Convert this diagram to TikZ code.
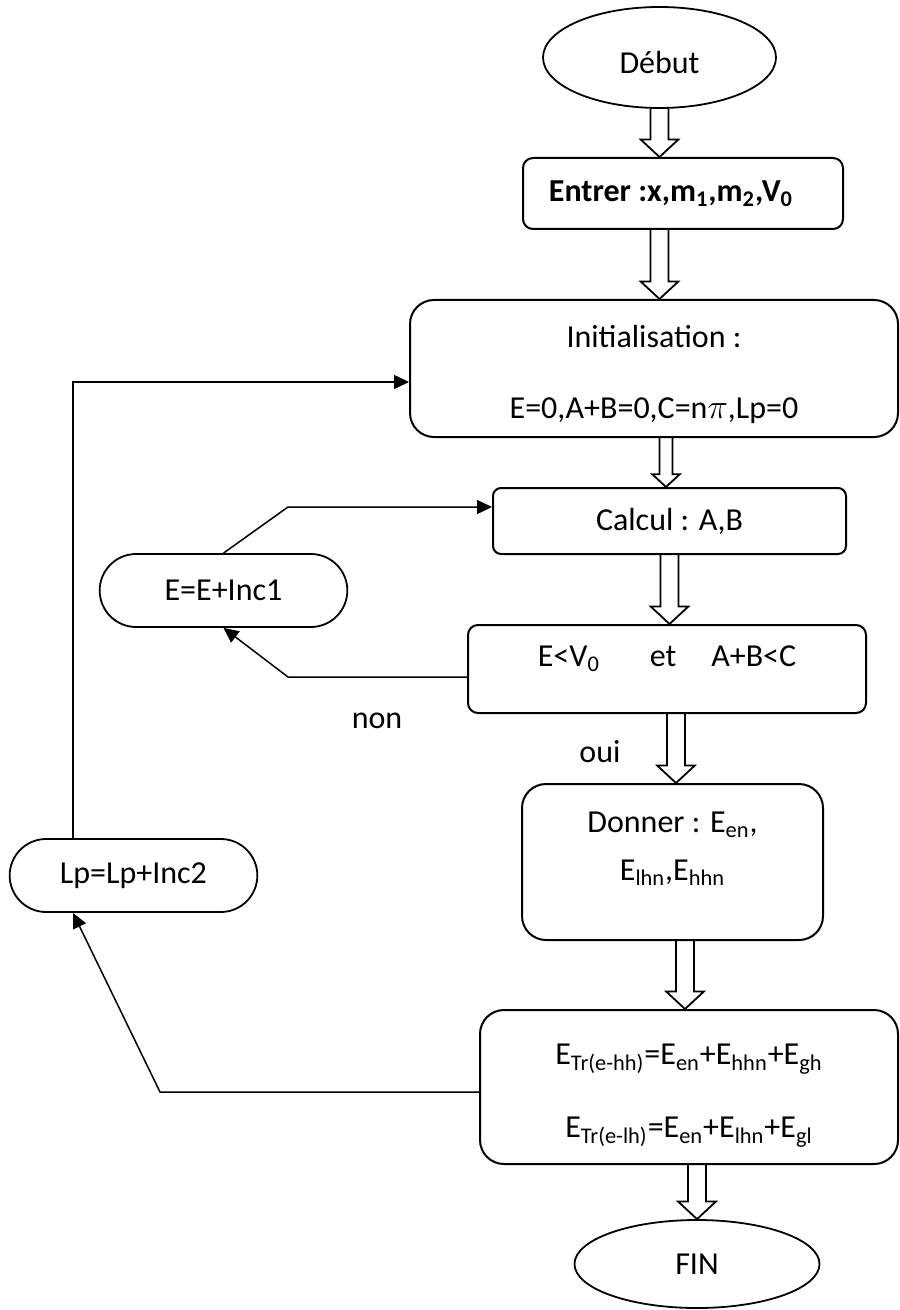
\documentclass[tikz,border=0pt]{standalone}
\usepackage{fontspec}
\setmainfont{Carlito}
\usepackage{tikz}
\usetikzlibrary{calc}
\usetikzlibrary{positioning}
\usetikzlibrary{shapes.geometric}
\usetikzlibrary{shapes.misc}
\usetikzlibrary{arrows.meta}
\tikzstyle{txt} = [font=\fontsize{16}{19}\selectfont, align=center]
\tikzstyle{endnode} = [txt, draw, ellipse, line width=0.9pt, inner sep=0]
\tikzstyle{stepnode} = [txt, draw, rectangle, rounded corners=5pt, line width=1pt]
\tikzstyle{incnode} = [txt, draw, rounded rectangle, line width=0.9pt, minimum width=130.5pt, minimum height=36.5pt]
\tikzstyle{link} = [line width=0.75pt, -{Triangle[length=7.5pt,width=7pt]}]
\tikzstyle{fatarrow} = [draw, line width=0.9pt, line join=miter]
\tikzstyle{lbl} = [txt, anchor=base]
\newcommand\sub[1]{\textsubscript{#1}}
\newcommand\fatarrow[4][9]{%
  \draw[fatarrow] let \p1=($(#2.south)+(#4,0)$), \p2=(#3.north) in
    (\x1-#1*0.5pt,\y1) -- (\x1-#1*0.5pt,\y2+#1*0.975pt) -- (\x1-#1*1.05pt,\y2+#1*0.975pt)
    -- (\x1,\y2) -- (\x1+#1*1.05pt,\y2+#1*0.975pt) -- (\x1+#1*0.5pt,\y2+#1*0.975pt) -- (\x1+#1*0.5pt,\y1);}

\begin{document}
\begin{tikzpicture}[x=0.5pt,y=-0.5pt]
\useasboundingbox (0,0) rectangle (899,1310);
\node[endnode, minimum width=116.5pt, minimum height=50.5pt] (debut) at (659.5,57.5) {\rule{0pt}{16pt}Début};
\node[stepnode, minimum width=160pt, minimum height=35.5pt] (entrer) at ($(debut)+(23.5,136)$) {\textbf{Entrer :x,m\sub{1},m\sub{2},V\sub{0}}\hspace{12pt}};
\node[stepnode, rounded corners=12pt, minimum width=244pt, minimum height=68.5pt] (init) at ($(entrer)+(-29,175)$) {\rule{0pt}{17.5pt}Initialisation :\\[16.5pt]E=0,A+B=0,C=n$\pi$,Lp=0};
\node[stepnode, rounded corners=4pt, minimum width=176.5pt, minimum height=33pt] (calcul) at ($(init)+(15.5,152.5)$) {Calcul : A,B};
\node[stepnode, minimum width=199pt, minimum height=44pt] (cond) at ($(calcul)+(-2.5,148)$) {E<V\sub{0}\hspace{25pt}et\hspace{17.5pt}A+B<C\\[-6pt]~};
\node[stepnode, rounded corners=12pt, minimum width=150.5pt, minimum height=78pt] (donner) at ($(cond)+(5.5,193)$) {Donner : E\sub{en},\\[5pt]E\sub{lhn},E\sub{hhn}\\[-3pt]~};
\node[stepnode, rounded corners=12pt, minimum width=209pt, minimum height=77pt] (result) at ($(donner)+(16.5,225)$) {\rule{0pt}{19pt}E\sub{Tr(e-hh)}=E\sub{en}+E\sub{hhn}+E\sub{gh}\\[17.5pt]E\sub{Tr(e-lh)}=E\sub{en}+E\sub{lhn}+E\sub{gl}};
\node[endnode, minimum width=122.5pt, minimum height=44pt] (fin) at ($(result)+(8,177)$) {FIN};
\node[incnode] (inc1) at ($(calcul)+(-446,69.5)$) {E=E+Inc1};
\node[incnode] (inc2) at ($(donner)+(-539,13.5)$) {Lp=Lp+Inc2};
\coordinate (k1) at ($(inc1)+(64.5,-83.5)$);
\coordinate (k2) at ($(inc1)+(64.5,86.5)$);
\coordinate (k3) at ($(inc2)+(-60.5,-493.5)$);
\coordinate (k4) at ($(inc2)+(26.5,216.5)$);
\node[lbl] (non) at ($(k2)+(89,51)$) {non};
\node[lbl] (oui) at ($(cond)+(-67,93)$) {oui};
\fatarrow{debut}{entrer}{0}
\fatarrow{entrer}{init}{-23.5}
\fatarrow[6.5]{init}{calcul}{12}
\fatarrow{calcul}{cond}{0}
\fatarrow{cond}{donner}{9}
\fatarrow{donner}{result}{12.5}
\fatarrow{result}{fin}{8}
\draw[link] (inc1.north) -- (k1) -- (k1 -| calcul.west);
\draw[link] (k2 -| cond.west) -- (k2) -- (inc1.south);
\draw[link] (k3 |- inc2.north) -- (k3) -- (k3 -| init.west);
\draw[link] (k4 -| result.west) -- (k4) -- (k3 |- inc2.south);
\end{tikzpicture}
\end{document}
